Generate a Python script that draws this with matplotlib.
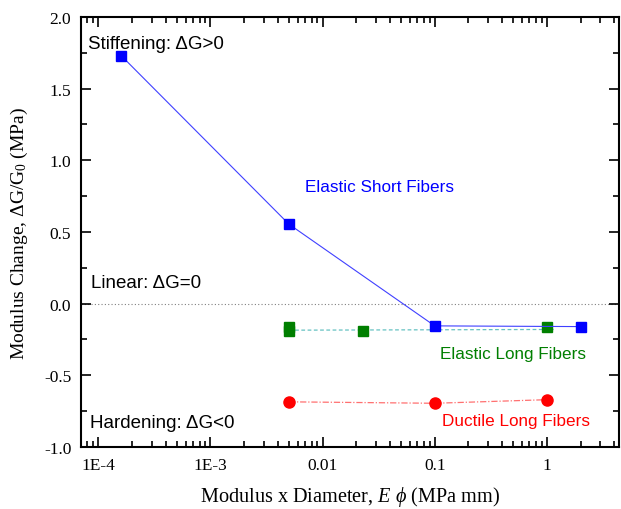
import matplotlib
matplotlib.use("Agg")
import matplotlib.pyplot as plt
from matplotlib.ticker import FixedLocator, LogLocator, NullFormatter, MultipleLocator

# data
short_x = [1.6e-4, 0.005, 0.1, 2.0]
short_y = [1.73, 0.555, -0.155, -0.16]

elong_x = [0.005, 0.005, 0.023, 1.0]
elong_y = [-0.16, -0.19, -0.19, -0.165]

ductile_x = [0.005, 0.1, 1.0]
ductile_y = [-0.685, -0.695, -0.67]

xticks = [1e-4, 1e-3, 0.01, 0.1, 1]
xticklabels = ["1E-4", "1E-3", "0.01", "0.1", "1"]
yticks = [-1.0, -0.5, 0.0, 0.5, 1.0, 1.5, 2.0]

serif = "Liberation Serif"
sans = "Liberation Sans"

plt.rcParams["mathtext.fontset"] = "custom"
plt.rcParams["mathtext.rm"] = serif
plt.rcParams["mathtext.it"] = serif + ":italic"

fig = plt.figure(figsize=(6.21, 5.10), dpi=100)
ax = fig.add_axes([0.1304, 0.1216, 0.8664, 0.8431])

ax.axhline(0, color="#808080", lw=0.8, ls=(0, (1, 2)), zorder=1)

ax.plot(short_x, short_y, color="#4040ff", lw=0.8, marker="s", ms=7.5,
        mfc="#0000ff", mec="#0000ff", zorder=4)
ax.plot([elong_x[0], 1.15], [-0.185, -0.18], color="#66c2c2", lw=0.9,
        ls=(0, (3, 2)), zorder=2)
ax.plot(elong_x, elong_y, ls="none", marker="s", ms=6.5,
        mfc="#007f00", mec="#007f00", zorder=3)
ax.plot(ductile_x, ductile_y, color="#ff7070", lw=0.9,
        ls=(0, (5, 1.5, 1, 1.5)), marker="o", ms=8,
        mfc="#ff0000", mec="#ff0000", zorder=3)

ax.set_xscale("log")
ax.set_xlim(7e-5, 4.4)
ax.set_ylim(-1.0, 2.0)

ax.xaxis.set_major_locator(FixedLocator(xticks))
ax.set_xticklabels(xticklabels)
ax.xaxis.set_minor_locator(LogLocator(base=10, subs=range(2, 10), numticks=20))
ax.xaxis.set_minor_formatter(NullFormatter())
ax.set_yticks(yticks)
ax.set_yticklabels(["%.1f" % v for v in yticks])
ax.yaxis.set_minor_locator(MultipleLocator(0.25))

ax.tick_params(which="both", direction="in", top=True, right=True, width=1.2)
ax.tick_params(which="major", length=7, labelsize=12.5, pad=7)
ax.tick_params(which="minor", length=4)
for lab in ax.get_xticklabels() + ax.get_yticklabels():
    lab.set_fontfamily(serif)
for s in ax.spines.values():
    s.set_linewidth(1.5)

ax.set_xlabel(r"Modulus x Diameter, $\mathit{E}$ $\phi$ (MPa mm)",
              fontsize=14.6, family=serif, labelpad=8)
ax.set_ylabel(r"Modulus Change, $\Delta$G/G$_0$ (MPa)",
              fontsize=14, family=serif, labelpad=10)

ax.text(0.013, 0.939, "Stiffening: ΔG>0", transform=ax.transAxes,
        fontsize=13.5, family=sans, va="center")
ax.text(0.018, 0.382, "Linear: ΔG=0", transform=ax.transAxes,
        fontsize=13.5, family=sans, va="center")
ax.text(0.016, 0.057, "Hardening: ΔG<0", transform=ax.transAxes,
        fontsize=13.5, family=sans, va="center")
ax.text(0.417, 0.605, "Elastic Short Fibers", transform=ax.transAxes,
        fontsize=12.3, family=sans, color="#0000ff", va="center")
ax.text(0.667, 0.218, "Elastic Long Fibers", transform=ax.transAxes,
        fontsize=12.3, family=sans, color="#007f00", va="center")
ax.text(0.671, 0.062, "Ductile Long Fibers", transform=ax.transAxes,
        fontsize=12.3, family=sans, color="#ff0000", va="center")

fig.savefig("out.png", dpi=100)
